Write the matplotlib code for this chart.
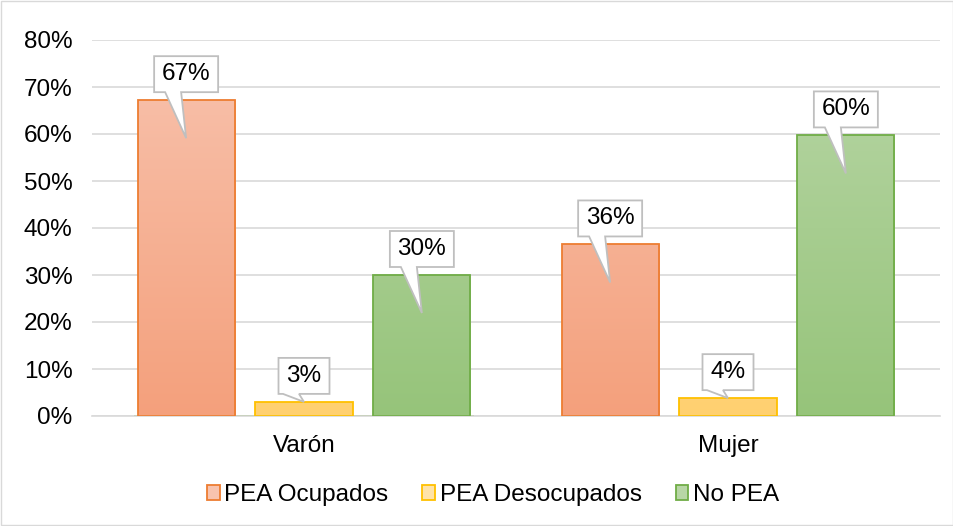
import numpy as np
import matplotlib.pyplot as plt
from matplotlib.patches import Polygon, Rectangle
from matplotlib.colors import LinearSegmentedColormap

plt.rcParams['font.family'] = ['Liberation Sans', 'DejaVu Sans']

categories = ['Varón', 'Mujer']
series = ['PEA Ocupados', 'PEA Desocupados', 'No PEA']
values = [
    [67.2, 36.5],   # PEA Ocupados
    [3.0, 3.8],     # PEA Desocupados
    [30.0, 59.7],   # No PEA
]
labels = [['67%', '36%'], ['3%', '4%'], ['30%', '60%']]
yticks = [0, 10, 20, 30, 40, 50, 60, 70, 80]

edge_colors = ['#ED7D31', '#FFC000', '#70AD47']
top_colors = ['#F8C3AE', '#FFE3A8', '#B8D6A6']
bottom_colors = ['#F4A07C', '#FFD070', '#96C47A']

FS = 17.5

fig = plt.figure(figsize=(9.54, 5.26), dpi=100)
ax = fig.add_axes([92 / 954, 1 - 416 / 526, 848 / 954, 376 / 526])

width = 0.229
step = 0.278
x = np.arange(len(categories))
px_y = 80 / 376   # data units per pixel (y)
px_x = 2 / 848    # data units per pixel (x)

for i, name in enumerate(series):
    pos = x + (i - 1) * step
    cmap = LinearSegmentedColormap.from_list(name, [bottom_colors[i], top_colors[i]])
    grad = np.linspace(0, 1, 256).reshape(-1, 1)
    for j, v in enumerate(values[i]):
        left = pos[j] - width / 2
        im = ax.imshow(grad, cmap=cmap, origin='lower', aspect='auto',
                       extent=[left, left + width, 0, 80], zorder=2)
        rect = Rectangle((left, 0), width, v, facecolor='none',
                         edgecolor=edge_colors[i], linewidth=1.3, zorder=3)
        ax.add_patch(rect)
        im.set_clip_path(rect)

        # callout label
        txt = labels[i][j]
        half_w = (32 if len(txt) > 2 else 25.5) * px_x
        box_b = v + 8 * px_y
        box_t = box_b + 36 * px_y
        cx = pos[j]
        tip_y = v - 38 * px_y if v > 10 else v
        shape = [
            (cx - half_w, box_b), (cx - 21 * px_x, box_b), (cx, tip_y),
            (cx - 5 * px_x, box_b), (cx + half_w, box_b),
            (cx + half_w, box_t), (cx - half_w, box_t),
        ]
        ax.add_patch(Polygon(shape, closed=True, facecolor='white',
                             edgecolor='#BFBFBF', linewidth=1.3, zorder=4))
        ax.text(cx, (box_b + box_t) / 2, txt, ha='center', va='center',
                fontsize=FS, color='#000000', zorder=5)

    ax.bar([0], [0], color=top_colors[i], edgecolor=edge_colors[i],
           linewidth=1.3, label=name)

ax.set_xlim(-0.5, 1.5)
ax.set_ylim(0, 80)
ax.set_yticks(yticks)
ax.set_yticklabels([f'{t}%' for t in yticks])
ax.set_xticks(x)
ax.set_xticklabels(categories)
ax.tick_params(axis='both', length=0, labelsize=FS, colors='#000000')
ax.tick_params(axis='y', pad=14)
ax.tick_params(axis='x', pad=14)
ax.grid(axis='y', color='#D9D9D9', linewidth=1.2, zorder=0)
ax.set_axisbelow(True)
for s in ['top', 'right', 'left']:
    ax.spines[s].set_visible(False)
ax.spines['bottom'].set_color('#D9D9D9')
ax.spines['bottom'].set_linewidth(1.2)

fig.legend(loc='center', bbox_to_anchor=(493 / 954, 1 - 495 / 526), ncol=3,
           frameon=False, fontsize=FS, handlelength=0.53, handleheight=0.53,
           handletextpad=0.17, columnspacing=1.4)

fig.patches.append(Rectangle((0.001, 0.001), 0.998, 0.998, transform=fig.transFigure,
                             fill=False, edgecolor='#D9D9D9', linewidth=1))

fig.savefig('out.png', dpi=100)
